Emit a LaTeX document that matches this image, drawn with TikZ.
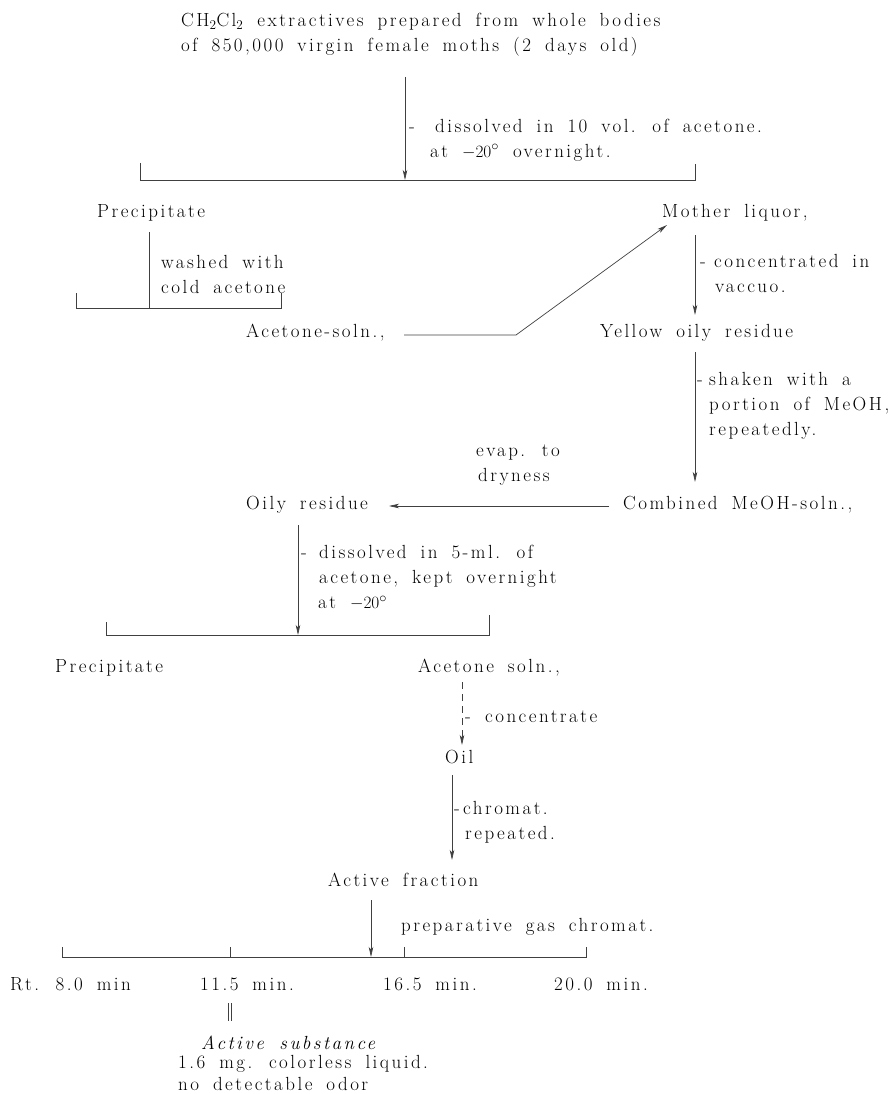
\documentclass[tikz,border=0pt]{standalone}
\usepackage{fontspec}
\setmainfont{Latin Modern Roman}[LetterSpace=13,WordSpace=1.7]
\usetikzlibrary{arrows.meta}
\newcommand\dashcol[1]{\makebox[#1][l]{-}}
\begin{document}
\begin{tikzpicture}[x=1pt,y=-1pt,
 txt/.style={inner sep=0pt, anchor=west, align=left, font=\fontsize{19}{25}\selectfont},
 ln/.style={line width=0.7pt, draw=black!75},
 arr/.style={ln, -{Stealth[length=10pt,width=4.5pt,inset=2.5pt]}},
 dsh/.style={arr, dash pattern=on 7pt off 5pt},
]
\useasboundingbox (0,0) rectangle (890,1094);
% texts
\node[txt] (src) at (181,35) {CH\textsubscript{2}Cl\textsubscript{2} extractives prepared from whole bodies\\of 850,000 virgin female moths (2 days old)};
\node[txt] (l1) at (409,140) {\dashcol{26pt}dissolved in 10 vol. of acetone.\\\hspace*{21pt}at $-20^\circ$ overnight.};
\node[txt] (p1) at (97,213) {Precipitate};
\node[txt] (ml) at (662,213) {Mother liquor,};
\node[txt] (l2) at (161,274) {washed with\\cold acetone};
\node[txt] (as1) at (246,333) {Acetone-soln.,};
\node[txt] (l3) at (700,273) {\dashcol{14pt}concentrated in\\\hspace*{15pt}vaccuo.};
\node[txt] (yor) at (600,333) {Yellow oily residue};
\node[txt] (l4) at (697,406) {\dashcol{12pt}shaken with a\\\hspace*{12pt}portion of MeOH,\\\hspace*{12pt}repeatedly.};
\node[txt] (l5) at (476,465) {evap. to\\\hspace*{2pt}dryness};
\node[txt] (cm) at (623,505) {Combined MeOH-soln.,};
\node[txt] (or) at (246,505) {Oily residue};
\node[txt] (l6) at (301,578) {\dashcol{18pt}dissolved in 5-ml. of\\\hspace*{18pt}acetone, kept overnight\\\hspace*{17pt}at $-20^\circ$};
\node[txt] (p2) at (55,668) {Precipitate};
\node[txt] (as2) at (418,668) {Acetone soln.,};
\node[txt] (l7) at (465,717) {\dashcol{20pt}concentrate};
\node[txt] (oil) at (445,757) {Oil};
\node[txt] (l8) at (454,822) {\dashcol{9pt}chromat.\\\hspace*{11pt}repeated.};
\node[txt] (af) at (328,880) {Active fraction};
\node[txt] (l9) at (401,927) {preparative gas chromat.};
\node[txt] (r1) at (10,984) {Rt. 8.0 min};
\node[txt] (r2) at (200,984) {11.5 min.};
\node[txt] (r3) at (383,984) {16.5 min.};
\node[txt] (r4) at (554,984) {20.0 min.};
\node[txt] (actsub) at (201,1043) {\itshape Active substance};
\node[txt] (res1) at (178,1064) {1.6 mg. colorless liquid.};
\node[txt] (res2) at (178,1084) {no detectable odor};
% coordinates
\coordinate (a1s) at (405,77);  \coordinate (a1e) at (405,180);
\coordinate (b1l) at (140,180); \coordinate (b1r) at (695,180);
\coordinate (p1s) at (149.5,232); \coordinate (p1e) at (149.5,308);
\coordinate (b2l) at (76,308);  \coordinate (b2r) at (281,308);
\coordinate (as1e) at (404,335); \coordinate (kink) at (516,335); \coordinate (mlin) at (667,225);
\coordinate (mls) at (695,235); \coordinate (mle) at (695,315);
\coordinate (yos) at (695,352); \coordinate (yoe) at (695,482);
\coordinate (cms) at (609,506); \coordinate (ore) at (389,506);
\coordinate (ors) at (298,525); \coordinate (ore2) at (298,635);
\coordinate (b3l) at (106,635); \coordinate (b3r) at (489,635);
\coordinate (a2s) at (462,682); \coordinate (a2e) at (462,745);
\coordinate (oils) at (452,775); \coordinate (oile) at (452,860);
\coordinate (afs) at (371,900); \coordinate (afe) at (371,957);
\coordinate (b4l) at (62,957); \coordinate (b4r) at (586,957);
\coordinate (t2) at (230,957); \coordinate (t3) at (404,957);
\coordinate (d1) at (230,1003); \coordinate (d2) at (230,1021);
% connectors
\draw[arr] (a1s) -- (a1e);
\draw[ln] ([yshift=17]b1l) -- (b1l) -- (b1r) -- ([yshift=16]b1r);
\draw[ln] (p1s) -- (p1e);
\draw[ln] ([yshift=15]b2l) -- (b2l) -- (b2r) -- ([yshift=15]b2r);
\draw[arr] (as1e) -- (kink) -- (mlin);
\draw[arr] (mls) -- (mle);
\draw[arr] (yos) -- (yoe);
\draw[arr] (cms) -- (ore);
\draw[arr] (ors) -- (ore2);
\draw[ln] ([yshift=13]b3l) -- (b3l) -- (b3r) -- ([yshift=20]b3r);
\draw[dsh] (a2s) -- (a2e);
\draw[arr] (oils) -- (oile);
\draw[arr] (afs) -- (afe);
\draw[ln] ([yshift=10]b4l) -- (b4l) -- (b4r) -- ([yshift=10]b4r);
\draw[ln] (t2) -- ([yshift=10]t2);
\draw[ln] (t3) -- ([yshift=10]t3);
\draw[ln] ([xshift=-1.5]d1) -- ([xshift=-1.5]d2);
\draw[ln] ([xshift=1.5]d1) -- ([xshift=1.5]d2);
\end{tikzpicture}
\end{document}
